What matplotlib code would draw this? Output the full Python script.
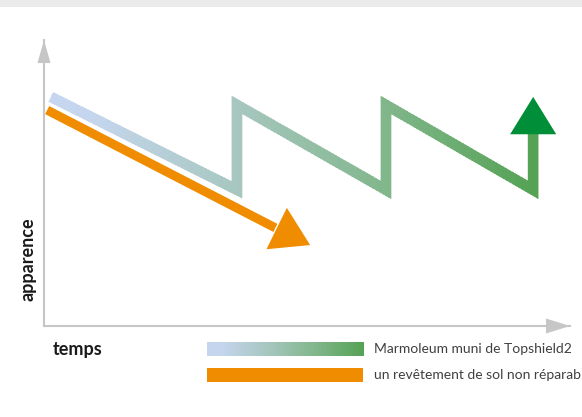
import numpy as np
import matplotlib
matplotlib.use('Agg')
import matplotlib.pyplot as plt
import matplotlib.patheffects as pe
from matplotlib.colors import LinearSegmentedColormap
from matplotlib.patches import Rectangle

# Marmoleum with Topshield2: wears down, gets repaired, ends up going up
green_time = [0.13, 3.67, 3.67, 6.50, 6.50, 9.30, 9.30]
green_look = [8.01, 4.76, 7.73, 4.76, 7.73, 4.76, 6.71]
green_tip = (9.30, 8.01)

# floor covering that cannot be repaired: only goes down
orange_time = [0.06, 4.42]
orange_look = [7.55, 3.41]
orange_tip = (5.06, 2.83)

x_label = 'temps'
y_label = 'apparence'
legend_labels = ['Marmoleum muni de Topshield2',
                 'un revêtement de sol non réparable']

ORANGE = '#ef8c00'
DARK_GREEN = '#008f38'
AXIS_GREY = '#c6c6c6'
cmap = LinearSegmentedColormap.from_list(
    'topshield', [(0.0, '#c6d6ef'), (0.1, '#c4d5ec'), (0.4, '#a5c6bd'),
                  (0.7, '#80b68a'), (1.0, '#55a255')])

plt.rcParams['font.family'] = ['Lato', 'DejaVu Sans']

W, H = 582, 417
fig = plt.figure(figsize=(W / 100, H / 100), dpi=100)

# grey band at the top
fig.add_artist(Rectangle((0, 1 - 7 / H), 1, 7 / H, transform=fig.transFigure,
                         color='#ebebeb', lw=0))

ax = fig.add_axes([44 / W, (H - 326) / H, (570 - 44) / W, (326 - 40) / H])
ax.set_xlim(0, 10)
ax.set_ylim(0, 10)
ax.set_xticks([])
ax.set_yticks([])
for side in ['top', 'right']:
    ax.spines[side].set_visible(False)
for side in ['left', 'bottom']:
    ax.spines[side].set_color(AXIS_GREY)
    ax.spines[side].set_linewidth(1.5)

# axis arrow heads
ax.annotate('', xy=(0, 1), xytext=(0, 0.9), xycoords='axes fraction',
            arrowprops=dict(arrowstyle='-|>,head_length=1.66,head_width=0.47',
                            mutation_scale=10, color=AXIS_GREY, lw=0,
                            shrinkA=0, shrinkB=0))
ax.annotate('', xy=(1, 0), xytext=(0.9, 0), xycoords='axes fraction',
            arrowprops=dict(arrowstyle='-|>,head_length=1.73,head_width=0.54',
                            mutation_scale=10, color=AXIS_GREY, lw=0,
                            shrinkA=0, shrinkB=0))

# gradient line: full polyline drawn in narrow vertical strips
lw_green = 7.6
x0, x1 = min(green_time) - 0.12, max(green_time) + 0.12
n = 160
dx = (x1 - x0) / n
for i in range(n):
    xa = x0 + i * dx
    t = (xa + dx / 2 - min(green_time)) / (max(green_time) - min(green_time))
    line, = ax.plot(green_time, green_look, color=cmap(np.clip(t, 0, 1)),
                    lw=lw_green, solid_joinstyle='miter', solid_capstyle='butt')
    line.set_clip_path(Rectangle((xa, -1), dx * 1.6, 12, transform=ax.transData))

ax.annotate('', xy=green_tip, xytext=(green_time[-1], green_look[-1]),
            arrowprops=dict(arrowstyle='-|>,head_length=2.69,head_width=1.66',
                            mutation_scale=10, color=DARK_GREEN, lw=0,
                            shrinkA=0, shrinkB=0))

# orange line with a thin white outline
ax.plot(orange_time, orange_look, color=ORANGE, lw=6.5,
        solid_capstyle='butt', path_effects=[
            pe.Stroke(linewidth=8.5, foreground='white'), pe.Normal()])
arr = ax.annotate('', xy=orange_tip, xytext=(orange_time[-1], orange_look[-1]),
                  arrowprops=dict(arrowstyle='-|>,head_length=2.69,head_width=1.66',
                                  mutation_scale=10, color=ORANGE, lw=0,
                                  shrinkA=0, shrinkB=0))
arr.arrow_patch.set_path_effects([pe.Stroke(linewidth=2, foreground='white'),
                                  pe.Normal()])

# axis labels
fig.text(53 / W, 1 - 350 / H, x_label, fontsize=13, fontweight='bold',
         color='#1a1a1a', ha='left', va='center')
fig.text(28 / W, 1 - 259 / H, y_label, fontsize=13, fontweight='bold',
         color='#1a1a1a', ha='center', va='center', rotation=90)

# legend
lax = fig.add_axes([207 / W, (H - 356) / H, 157 / W, 14 / H])
lax.imshow(np.linspace(0, 1, 256)[None, :], cmap=cmap, aspect='auto')
lax.axis('off')
fig.add_artist(Rectangle((207 / W, (H - 382) / H), 156 / W, 14 / H,
                         transform=fig.transFigure, color=ORANGE, lw=0))
fig.text(374 / W, 1 - 349 / H, legend_labels[0], fontsize=10,
         color='#404040', ha='left', va='center')
fig.text(374 / W, 1 - 375 / H, legend_labels[1], fontsize=10,
         color='#404040', ha='left', va='center')

fig.savefig('out.png', dpi=100)
